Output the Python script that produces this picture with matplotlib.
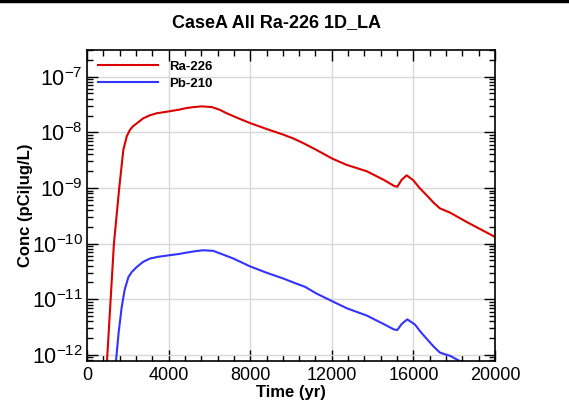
import matplotlib
matplotlib.use('agg')
import matplotlib.pyplot as plt
from matplotlib.ticker import FixedLocator, LogLocator, MultipleLocator, NullFormatter
from matplotlib.lines import Line2D
import numpy as np

plt.rcParams['font.family'] = ['Liberation Sans', 'DejaVu Sans']
plt.rcParams['mathtext.fontset'] = 'custom'
plt.rcParams['mathtext.rm'] = 'Liberation Sans'
plt.rcParams['mathtext.it'] = 'Liberation Sans:italic'
plt.rcParams['mathtext.bf'] = 'Liberation Sans:bold'

# donnees
ra_t = [800, 980, 1320, 1580, 1780, 1950, 2100, 2250, 2440, 2750, 3090, 3410,
        3750, 4070, 4500, 4890, 5250, 5620, 6110, 6500, 6850, 7400, 7990, 8800,
        9620, 10100, 10600, 11260, 12025, 12730, 13710, 14530, 15050, 15210,
        15430, 15670, 16000, 16300, 16650, 17000, 17300, 17800, 18610, 19300, 20000]
ra_c = [1e-13, 7.7e-13, 1e-10, 1e-9, 4.8e-9, 8.5e-9, 1.1e-8, 1.28e-8, 1.45e-8,
        1.78e-8, 2.03e-8, 2.2e-8, 2.3e-8, 2.4e-8, 2.55e-8, 2.74e-8, 2.85e-8,
        2.93e-8, 2.85e-8, 2.55e-8, 2.2e-8, 1.8e-8, 1.47e-8, 1.15e-8, 9.1e-9,
        7.8e-9, 6.4e-9, 4.8e-9, 3.37e-9, 2.6e-9, 2.0e-9, 1.41e-9, 1.09e-9,
        1.05e-9, 1.41e-9, 1.69e-9, 1.37e-9, 1.0e-9, 7.4e-10, 5.4e-10, 4.3e-10,
        3.6e-10, 2.45e-10, 1.8e-10, 1.32e-10]

pb_t = [1350, 1420, 1550, 1700, 1850, 2030, 2200, 2440, 2750, 3090, 3500, 4070,
        4500, 4890, 5300, 5700, 6190, 6600, 7170, 7990, 8800, 9620, 10200, 10690,
        11260, 12025, 12730, 13710, 14530, 15050, 15210, 15430, 15700, 16080,
        16350, 16650, 17000, 17300, 17800, 18260, 18600]
pb_c = [3e-13, 7.7e-13, 2.5e-12, 7.2e-12, 1.5e-11, 2.5e-11, 3.1e-11, 3.8e-11,
        4.7e-11, 5.4e-11, 5.8e-11, 6.2e-11, 6.5e-11, 6.9e-11, 7.3e-11, 7.6e-11,
        7.4e-11, 6.5e-11, 5.4e-11, 3.9e-11, 3.0e-11, 2.36e-11, 1.95e-11, 1.67e-11,
        1.26e-11, 9.2e-12, 6.9e-12, 5.1e-12, 3.6e-12, 2.86e-12, 2.8e-12, 3.6e-12,
        4.35e-12, 3.5e-12, 2.6e-12, 1.95e-12, 1.4e-12, 1.1e-12, 9.6e-13, 7.8e-13,
        6.5e-13]

xticks = [0, 4000, 8000, 12000, 16000, 20000]
yticks = [1e-12, 1e-11, 1e-10, 1e-9, 1e-8, 1e-7]

fig = plt.figure(figsize=(5.69, 4.04), dpi=100)
ax = fig.add_axes([87/569, 1-361/404, 408/569, 311/404])

ax.plot(ra_t, ra_c, color='#dd0000', lw=1.5, label='Ra-226')
ax.plot(pb_t, pb_c, color='#3333ff', lw=1.5, label='Pb-210')

ax.set_yscale('log')
ax.set_xlim(0, 20000)
ax.set_ylim(10**-12.11, 10**-6.52)
ax.set_xticks(xticks)
ax.xaxis.set_minor_locator(MultipleLocator(800))
ax.yaxis.set_major_locator(FixedLocator(yticks))
ax.set_yticklabels([r'$10^{%d}$' % int(np.log10(v)) for v in yticks])
ax.yaxis.set_minor_locator(LogLocator(base=10, subs=np.arange(2, 10), numticks=20))
ax.yaxis.set_minor_formatter(NullFormatter())

ax.grid(True, which='major', color='#d8d8d8', lw=1)
ax.set_axisbelow(True)
ax.tick_params(which='both', direction='in', top=True, right=True, width=1)
ax.tick_params(which='major', length=8)
ax.tick_params(which='minor', length=4.5)
ax.tick_params(axis='x', labelsize=13, pad=4)
ax.tick_params(axis='y', labelsize=15.5, pad=3)
for s in ax.spines.values():
    s.set_linewidth(1.2)

ax.set_xlabel('Time (yr)', fontsize=12, fontweight='bold', labelpad=1)
ax.set_ylabel('Conc (pCi|ug/L)', fontsize=12, fontweight='bold')
ax.yaxis.set_label_coords(-0.132, 0.5)

leg = ax.legend(loc='upper left', frameon=False, prop={'weight': 'bold', 'size': 9.5},
                handlelength=4.6, handletextpad=0.8, borderaxespad=0.4, labelspacing=0.35)

fig.text(277/569, 1-23/404, 'CaseA All Ra-226 1D_LA', ha='center', va='center',
         fontsize=13, fontweight='bold')
fig.add_artist(Line2D([0, 1], [1-1/404, 1-1/404], color='black', lw=2.5,
                      transform=fig.transFigure))

fig.savefig('out.png', dpi=100)
